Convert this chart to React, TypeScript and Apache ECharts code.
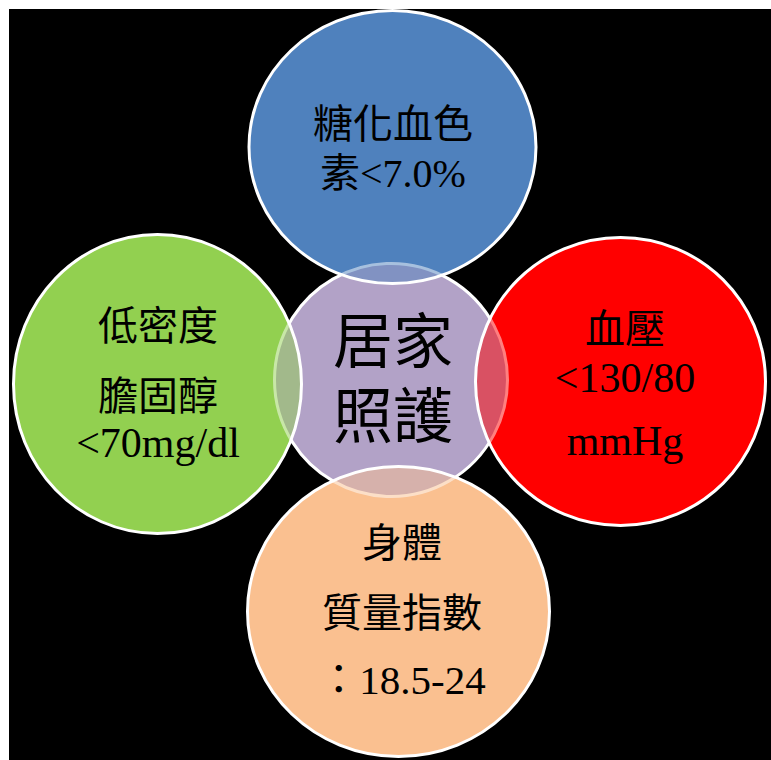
import React, { useEffect, useRef } from 'react';
import * as echarts from 'echarts';

// ---- content ----
const centerLines = ['居家', '照護'];
const topLines = ['糖化血色', '素<7.0%'];
const leftLines = ['低密度', '膽固醇', '<70mg/dl'];
const rightLines = ['血壓', '<130/80', 'mmHg'];
const bottomLines = ['身體', '質量指數', '：18.5-24'];
const outerLines = [topLines, leftLines, rightLines, bottomLines];
const outerColors = ['#4F81BD', '#92D050', '#FF0000', '#FAC090'];
const outerOverlapColors = [
  'rgba(79,129,189,0.5)',
  'rgba(146,208,80,0.5)',
  'rgba(255,0,0,0.5)',
  'rgba(250,192,144,0.5)',
];
const centerColor = '#B2A2C7';

// ---- layout ----
const W = 771;
const H = 760;
const FONT_FAMILY = '"Liberation Serif", "Times New Roman", "Noto Sans CJK TC", serif';
const outerShapes = [
  { cx: 392.5, cy: 147, rx: 143.5, ry: 136.5 },
  { cx: 157.5, cy: 384, rx: 144, ry: 149.5 },
  { cx: 620.5, cy: 381.5, rx: 145, ry: 144 },
  { cx: 398.5, cy: 611.5, rx: 151, ry: 145 },
];
const centerShape = { cx: 391, cy: 380, r: 116.5 };
const outerTextX = [393, 158, 625, 402];
const outerTextY = [
  [124, 173],
  [326, 396, 443],
  [329, 378, 441],
  [543, 613, 680],
];
const outerTextSize = [
  [40, 40],
  [40, 40, 42],
  [40, 42, 42],
  [40, 40, 41],
];
const centerTextX = 393;
const centerTextY = [343, 418];

function textEl(text: string, x: number, y: number, size: number) {
  return {
    type: 'text',
    x,
    y,
    silent: true,
    style: {
      text,
      fill: '#000000',
      fontSize: size,
      fontFamily: FONT_FAMILY,
      fontWeight: 'normal',
      align: 'center',
      verticalAlign: 'middle',
      textAlign: 'center',
      textVerticalAlign: 'middle',
    },
  };
}

export default function App() {
  const ref = useRef<HTMLDivElement>(null);
  useEffect(() => {
    if (!ref.current) return;
    const chart = echarts.init(ref.current, undefined, { renderer: 'svg' });
    const elements: any[] = [];
    elements.push({
      type: 'rect',
      shape: { x: 9, y: 9, width: W - 9, height: H - 9 },
      style: { fill: '#000000' },
    });
    outerShapes.forEach((s, i) => {
      elements.push({ type: 'ellipse', shape: s, style: { fill: outerColors[i] } });
    });
    elements.push({
      type: 'circle',
      shape: centerShape,
      style: { fill: centerColor, stroke: '#ffffff', lineWidth: 3 },
    });
    outerShapes.forEach((s, i) => {
      elements.push({
        type: 'ellipse',
        shape: s,
        style: { fill: outerOverlapColors[i], stroke: '#ffffff', lineWidth: 3 },
      });
    });
    centerLines.forEach((t, i) => elements.push(textEl(t, centerTextX, centerTextY[i], 60)));
    outerLines.forEach((lines, c) => {
      lines.forEach((t, i) =>
        elements.push(textEl(t, outerTextX[c], outerTextY[c][i], outerTextSize[c][i]))
      );
    });
    chart.setOption({
      animation: false,
      backgroundColor: '#ffffff',
      graphic: { elements },
    });
    return () => chart.dispose();
  }, []);
  return (
    <div
      ref={ref}
      style={{ position: 'absolute', left: 0, top: 0, width: W, height: H }}
    />
  );
}
